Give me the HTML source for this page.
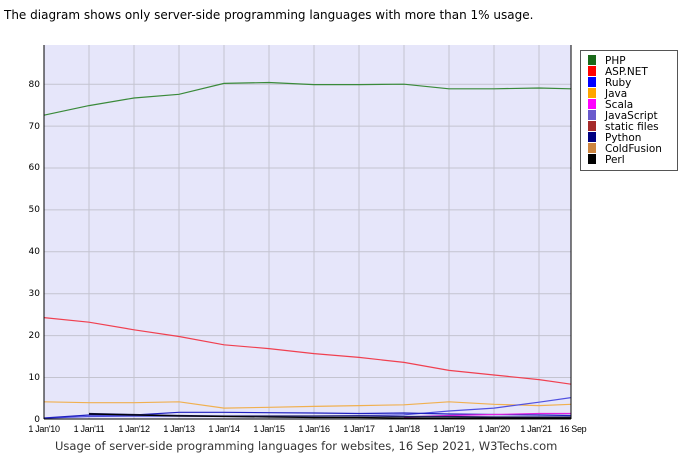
<!DOCTYPE html><html><head><meta charset="utf-8"><style>body{margin:0;background:#fff;width:700px;height:461px;overflow:hidden}</style></head><body>
<svg width="700" height="461" xmlns="http://www.w3.org/2000/svg" font-family="'DejaVu Sans',sans-serif">
<text x="4" y="19" font-size="12" fill="#000">The diagram shows only server-side programming languages with more than 1% usage.</text>
<rect x="44" y="45" width="527" height="374" fill="#e6e6fa"/>
<g stroke="#c4c4d0" stroke-width="1">
<line x1="44" x2="571" y1="84.2" y2="84.2"/><line x1="44" x2="571" y1="126.1" y2="126.1"/><line x1="44" x2="571" y1="168" y2="168"/><line x1="44" x2="571" y1="209.9" y2="209.9"/><line x1="44" x2="571" y1="251.8" y2="251.8"/><line x1="44" x2="571" y1="293.7" y2="293.7"/><line x1="44" x2="571" y1="335.6" y2="335.6"/><line x1="44" x2="571" y1="377.5" y2="377.5"/>
<line x1="89" x2="89" y1="45" y2="419"/><line x1="134" x2="134" y1="45" y2="419"/><line x1="179" x2="179" y1="45" y2="419"/><line x1="224" x2="224" y1="45" y2="419"/><line x1="269" x2="269" y1="45" y2="419"/><line x1="314" x2="314" y1="45" y2="419"/><line x1="359" x2="359" y1="45" y2="419"/><line x1="404" x2="404" y1="45" y2="419"/><line x1="449" x2="449" y1="45" y2="419"/><line x1="494" x2="494" y1="45" y2="419"/><line x1="539" x2="539" y1="45" y2="419"/>
</g>
<g fill="none" stroke-width="1.2">
<polyline stroke="#3a8a3a" points="44,115.2 89,105.6 134,98 179,94.3 224,83.4 269,82.5 314,84.6 359,84.6 404,84.2 449,88.8 494,88.8 539,88 571,88.8"/>
<polyline stroke="#f04050" points="44,317.6 89,322.2 134,329.8 179,336.5 224,344.8 269,348.6 314,353.6 359,357.4 404,362.4 449,370.4 494,375 539,379.6 571,384.2"/>
<polyline stroke="#f0b050" points="44,401.8 89,402.7 134,402.7 179,401.8 224,408.1 269,407.3 314,406.4 359,405.6 404,404.8 449,401.8 494,404.3 539,405.6 571,404.3"/>
<polyline stroke="#5050e0" points="44,418.2 89,416.5 134,416.1 179,416.1 224,416.1 269,416.1 314,416.1 359,415.6 404,414.8 449,411 494,408.1 539,402.2 571,397.6"/>
<polyline stroke="#2020c0" points="44,418 89,415 134,415 179,412.3 224,412.3 269,412.7 314,413 359,413.5 404,413 449,414 494,414.5 539,415 571,415.5"/>
<polyline stroke="#e020e0" points="404,417 449,415.5 494,414.5 539,413.5 571,413.5"/>
<polyline stroke="#202060" points="89,413.5 134,414.5 179,415.5 224,416 269,416 314,416 359,416 404,416.5 449,416.5 494,417 539,417 571,417"/>
<polyline stroke="#000" points="89,414 134,415 179,416 224,416.5 269,417 314,417.5 359,417.5 404,418 449,418 494,418 539,418 571,418"/>
</g>
<g stroke="#000"><line x1="44" x2="44" y1="45" y2="419"/><line x1="44" x2="571" y1="419" y2="419"/><line x1="571" x2="571" y1="45" y2="419"/></g>
<g font-size="9" fill="#000" text-anchor="end">
<text x="40" y="422">0</text><text x="40" y="380">10</text><text x="40" y="338">20</text><text x="40" y="296">30</text><text x="40" y="254">40</text><text x="40" y="212">50</text><text x="40" y="170">60</text><text x="40" y="129">70</text><text x="40" y="87">80</text>
</g>
<g font-size="9" fill="#000" text-anchor="middle" font-family="'Liberation Sans',sans-serif" letter-spacing="-0.3">
<text x="44" y="432">1 Jan'10</text><text x="89" y="432">1 Jan'11</text><text x="134" y="432">1 Jan'12</text><text x="179" y="432">1 Jan'13</text><text x="224" y="432">1 Jan'14</text><text x="269" y="432">1 Jan'15</text><text x="314" y="432">1 Jan'16</text><text x="359" y="432">1 Jan'17</text><text x="404" y="432">1 Jan'18</text><text x="449" y="432">1 Jan'19</text><text x="494" y="432">1 Jan'20</text><text x="536" y="432">1 Jan'21</text><text x="573" y="432">16 Sep</text>
</g>
<text x="55" y="450" font-size="11.5" fill="#333">Usage of server-side programming languages for websites, 16 Sep 2021, W3Techs.com</text>
<rect x="580.5" y="50.5" width="97" height="120" fill="#fff" stroke="#555"/>
<g font-size="10.5" fill="#000">
<rect x="588" y="55" width="8" height="10" fill="#1a6a1a"/><text x="605" y="64">PHP</text>
<rect x="588" y="66" width="8" height="10" fill="#f00"/><text x="605" y="75">ASP.NET</text>
<rect x="588" y="77" width="8" height="10" fill="#00f"/><text x="605" y="86">Ruby</text>
<rect x="588" y="88" width="8" height="10" fill="#ffa500"/><text x="605" y="97">Java</text>
<rect x="588" y="99" width="8" height="10" fill="#f0f"/><text x="605" y="108">Scala</text>
<rect x="588" y="110" width="8" height="10" fill="#6a5acd"/><text x="605" y="119">JavaScript</text>
<rect x="588" y="121" width="8" height="10" fill="#a52a2a"/><text x="605" y="130">static files</text>
<rect x="588" y="132" width="8" height="10" fill="#000080"/><text x="605" y="141">Python</text>
<rect x="588" y="143" width="8" height="10" fill="#cd853f"/><text x="605" y="152">ColdFusion</text>
<rect x="588" y="154" width="8" height="10" fill="#000"/><text x="605" y="163">Perl</text>
</g>
</svg></body></html>
